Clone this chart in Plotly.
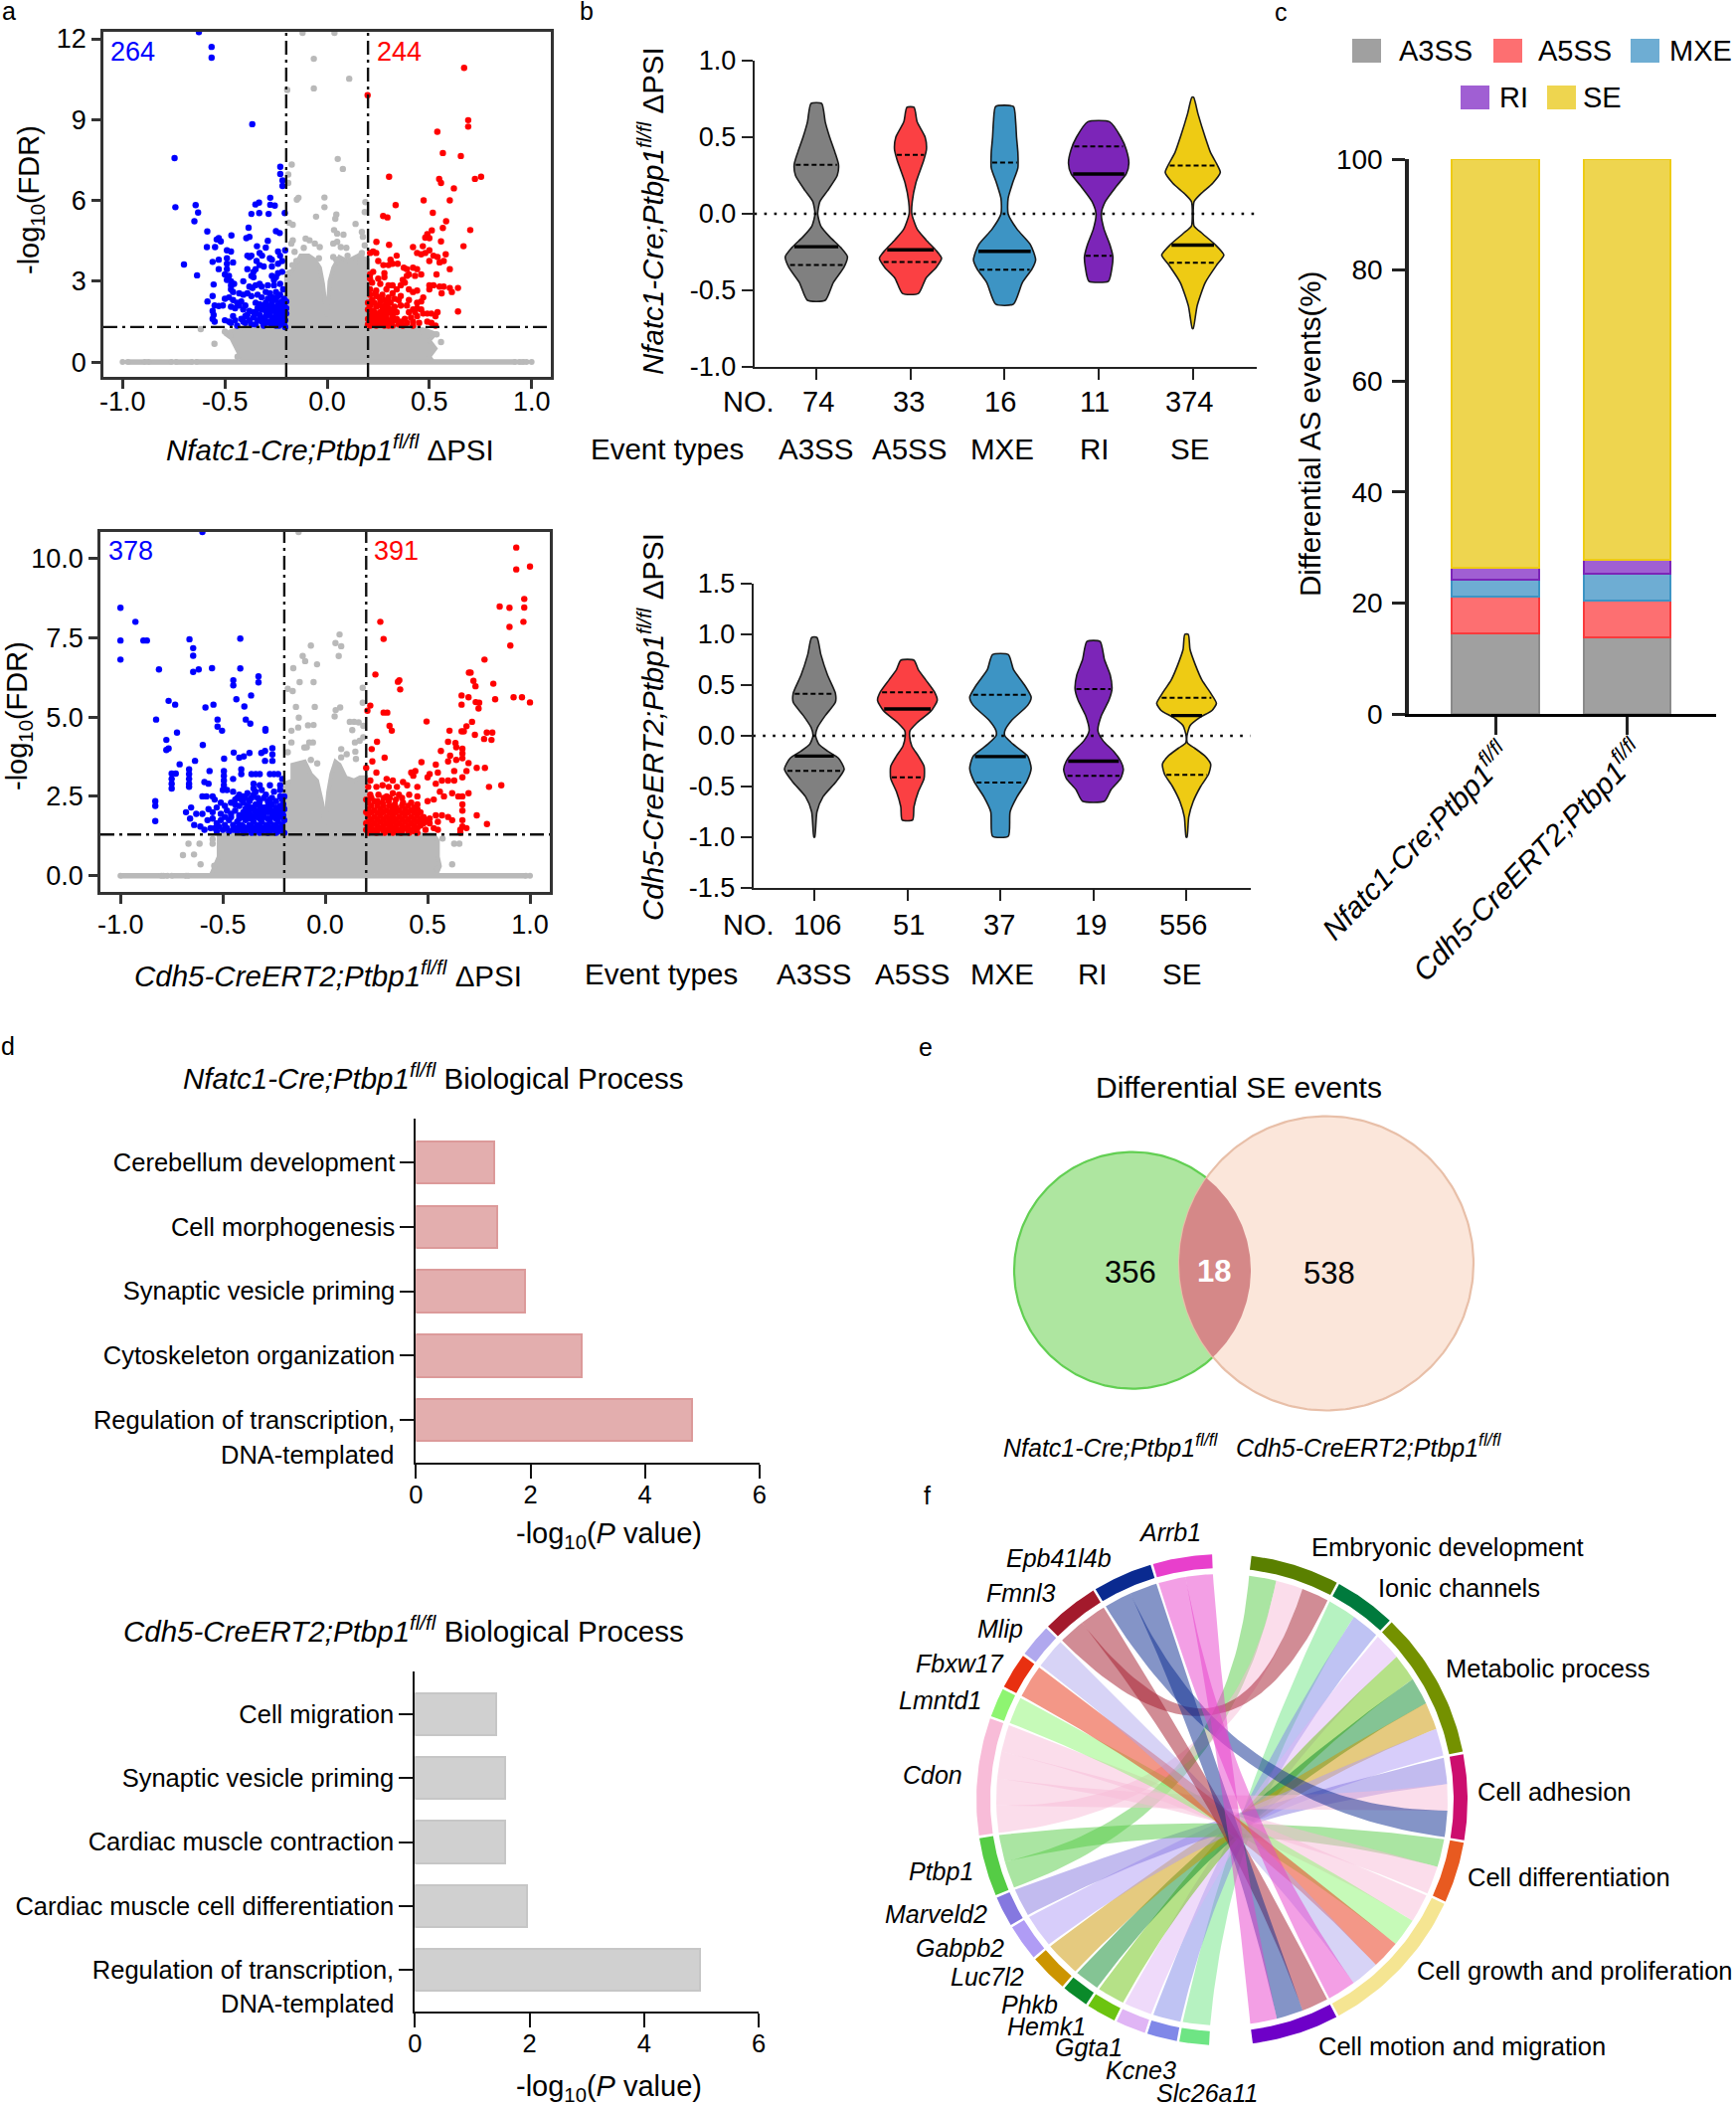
import numpy as np
import plotly.graph_objects as go

W, H = 1746, 2117
FONT = "Liberation Sans"
GENO1 = "<i>Nfatc1-Cre;Ptbp1<sup>fl/fl</sup></i>"
GENO2 = "<i>Cdh5-CreERT2;Ptbp1<sup>fl/fl</sup></i>"

# ---------- panel a : volcano plots ----------
BLUE_A = [(-0.627,12.25),(-0.565,11.7),(-0.565,11.3),(-0.366,8.83),(-0.746,7.57),(-0.742,5.75),(-0.643,5.83),(-0.631,5.55),(-0.649,5.23),(-0.586,4.85),
(-0.229,7.25),(-0.229,6.98),(-0.218,6.74),(-0.218,6.54),(-0.278,6.1),(-0.351,5.85),(-0.333,5.92),(-0.278,5.84),(-0.256,5.81),(-0.37,5.5),(-0.332,5.53),(-0.286,5.5),(-0.207,5.53),(-0.384,4.99),(-0.25,4.86),(-0.232,4.79),
(-0.53,4.6),(-0.54,4.55),(-0.52,4.48),(-0.468,4.7),(-0.395,4.6),(-0.38,4.65),(-0.29,4.5),(-0.588,4.27),(-0.548,4.27),
(-0.49,4.15),(-0.47,4.1),(-0.343,4.3),(-0.3,4.25),(-0.205,4.15),(-0.24,4.1),(-0.23,3.95),(-0.33,4.05),(-0.318,3.95),(-0.39,3.95),(-0.38,3.9),(-0.37,3.95),(-0.49,3.85),(-0.53,3.8),(-0.28,3.85),(-0.27,3.8),(-0.22,3.75),(-0.345,3.75),(-0.33,3.6),(-0.31,3.55),(-0.56,3.72),(-0.27,3.55),(-0.24,3.65),(-0.49,3.65),(-0.46,3.7),
(-0.53,3.45),(-0.49,3.45),(-0.39,3.45),(-0.36,3.35),(-0.35,3.45),(-0.7,3.62),(-0.636,3.22),(-0.5,3.25),(-0.48,3.2),(-0.37,3.2),(-0.36,3.15),(-0.24,3.3),(-0.22,3.35),(-0.27,3.2),(-0.26,3.05),(-0.25,3.15),(-0.47,3.0),(-0.49,3.05),(-0.455,2.9),(-0.47,2.85),(-0.555,2.88),(-0.41,3.0),
(-0.35,2.85),(-0.33,2.9),(-0.38,2.8),(-0.365,2.75),(-0.32,2.8),(-0.29,2.85),(-0.26,2.85),(-0.23,2.9),(-0.215,2.7),(-0.47,2.7),(-0.46,2.6),(-0.43,2.55),(-0.41,2.5),(-0.39,2.55),(-0.37,2.45),(-0.34,2.5),(-0.32,2.4),(-0.3,2.6),(-0.28,2.55),(-0.25,2.6),(-0.23,2.5),(-0.21,2.35),
(-0.56,2.45),(-0.585,2.25),(-0.5,2.35),(-0.48,2.4),(-0.46,2.3),(-0.44,2.2),(-0.42,2.25),(-0.4,2.1),(-0.35,2.2),(-0.33,2.15),(-0.3,2.2),(-0.27,2.25),(-0.25,2.3),(-0.23,2.2),(-0.55,2.1),(-0.53,2.08),(-0.51,2.1),(-0.47,2.05),(-0.45,2.0),(-0.43,2.1),(-0.41,1.95),(-0.38,1.9),(-0.36,1.85),(-0.34,2.0),(-0.32,1.95),(-0.3,1.9),(-0.28,2.0),(-0.26,2.05),(-0.24,2.1),(-0.22,2.0),(-0.205,1.95),
(-0.56,1.9),(-0.555,1.75),(-0.56,1.6),(-0.55,1.5),(-0.5,1.55),(-0.48,1.5),(-0.47,1.45),(-0.44,1.35),(-0.42,1.6),(-0.4,1.7),(-0.4,1.45),(-0.38,1.55),(-0.36,1.65),(-0.35,1.4),(-0.33,1.75),(-0.31,1.6),(-0.31,1.35),(-0.29,1.75),(-0.29,1.5),(-0.28,1.8),(-0.27,1.65),(-0.27,1.4),(-0.26,1.9),(-0.26,1.55),(-0.25,1.75),(-0.25,1.35),(-0.24,1.85),(-0.24,1.6),(-0.23,1.7),(-0.23,1.45),(-0.22,1.85),(-0.22,1.55),(-0.21,1.7),(-0.21,1.4),(-0.205,1.55),(-0.2,1.8),(-0.28,1.45),(-0.3,1.7),(-0.245,1.45),(-0.215,1.6),
(-0.34,1.55),(-0.345,1.8),(-0.37,1.4),(-0.39,1.75),(-0.41,1.5),(-0.45,1.55),(-0.46,1.7),(-0.29,2.1),(-0.27,2.1),(-0.25,2.0),(-0.235,1.95),(-0.21,2.1),(-0.22,2.25),(-0.24,2.45),(-0.265,2.4),(-0.29,2.35),(-0.31,2.1),(-0.27,1.95),(-0.25,1.9),(-0.3,1.45),(-0.32,1.5),(-0.325,1.65),(-0.255,1.65),(-0.235,1.55),(-0.235,1.35),(-0.215,1.45),(-0.205,1.3),(-0.2,2.0),(-0.2,2.25)]
RED_A = [(0.67,10.92),(0.198,9.91),(0.69,8.98),(0.69,8.74),(0.539,8.55),(0.566,7.76),(0.654,7.65),(0.303,6.88),(0.753,6.88),(0.723,6.8),(0.548,6.8),(0.557,6.65),(0.62,6.45),(0.472,6.0),(0.6,6.0),(0.335,5.83),(0.517,5.54),(0.274,5.42),(0.295,5.37),(0.582,5.23),(0.566,4.98),(0.7,4.9),(0.512,4.89),(0.49,4.75),(0.48,4.62),(0.241,4.46),(0.557,4.48),(0.667,4.3),(0.303,4.35),(0.42,4.27),(0.468,4.3),(0.5,4.6),
(0.21,4.05),(0.225,4.1),(0.24,4.05),(0.44,4.05),(0.46,4.0),(0.48,4.05),(0.5,4.15),(0.52,3.95),(0.58,4.0),(0.34,3.95),(0.54,3.9),(0.5,3.75),(0.55,3.7),(0.57,3.75),(0.31,3.8),(0.25,3.75),(0.275,3.6),(0.3,3.6),(0.32,3.65),(0.345,3.65),(0.375,3.5),(0.39,3.45),(0.42,3.5),(0.44,3.45),(0.6,3.45),(0.535,3.25),(0.225,3.35),(0.21,3.25),(0.28,3.3),(0.39,3.2),(0.4,3.25),(0.43,3.2),(0.46,3.25),
(0.21,3.1),(0.25,3.1),(0.28,3.15),(0.37,3.05),(0.38,2.95),(0.22,2.95),(0.26,2.9),(0.3,2.85),(0.32,2.85),(0.36,2.85),(0.5,2.85),(0.52,2.85),(0.55,2.8),(0.5,2.7),(0.57,2.8),(0.6,2.75),(0.64,2.75),(0.61,2.6),(0.56,2.55),(0.34,2.7),(0.4,2.7),(0.42,2.6),(0.21,2.7),(0.24,2.65),(0.29,2.7),(0.32,2.55),(0.44,2.65),(0.36,2.45),(0.47,2.4),(0.21,2.5),(0.24,2.45),(0.27,2.5),(0.3,2.4),(0.33,2.35),(0.35,2.3),(0.4,2.3),(0.22,2.3),(0.26,2.25),(0.29,2.2),(0.31,2.2),(0.44,2.2),(0.46,2.25),
(0.21,2.1),(0.24,2.05),(0.27,2.05),(0.3,2.0),(0.33,2.05),(0.36,2.1),(0.39,2.1),(0.44,2.0),(0.46,1.95),(0.42,1.95),(0.22,1.9),(0.26,1.85),(0.28,1.95),(0.31,1.85),(0.34,1.85),(0.4,1.85),(0.43,1.85),(0.47,1.8),(0.49,1.8),(0.51,1.8),(0.54,1.85),(0.64,1.88),(0.21,1.7),(0.235,1.7),(0.26,1.65),(0.29,1.7),(0.32,1.65),(0.44,1.7),(0.53,1.7),(0.21,1.5),(0.23,1.5),(0.25,1.45),(0.27,1.5),(0.29,1.5),(0.31,1.45),(0.33,1.55),(0.36,1.5),(0.39,1.45),(0.42,1.5),(0.45,1.45),(0.49,1.5),(0.51,1.45),(0.53,1.35),(0.21,1.35),(0.24,1.35),(0.28,1.35),(0.32,1.35),(0.37,1.35),(0.42,1.35),(0.2,1.6),
(0.22,1.6),(0.245,1.55),(0.27,1.6),(0.3,1.55),(0.275,1.75),(0.25,1.8),(0.23,1.85),(0.2,1.95),(0.2,2.2),(0.2,1.4),(0.23,2.2),(0.25,2.1),(0.285,2.1),(0.28,2.3),(0.255,2.4),(0.235,2.55),(0.3,2.25),(0.32,1.95),(0.34,1.6),(0.38,1.6),(0.26,1.4),(0.3,1.35),(0.35,1.4),(0.41,1.65),(0.23,1.4),(0.22,1.75),(0.29,1.85),(0.32,1.75)]
GRAY_A = [(-0.065,11.26),(0.108,10.52),(-0.065,10.16),(-0.195,10.1),(0.052,7.54),(0.077,7.17),(-0.173,7.33),(-0.19,6.96),(-0.19,6.65),(-0.14,6.1),(-0.148,6.03),(-0.013,6.11),(-0.013,5.75),(-0.054,5.4),(0.045,5.48),(0.04,5.32),(0.187,5.94),(0.184,5.57),(0.139,5.13),(-0.168,5.1),(-0.186,5.17),(-0.12,12.22),(0.036,12.22),
(0.034,4.9),(0.049,4.77),(0.08,4.73),(0.17,4.83),(0.175,4.65),(0.184,4.33),(-0.168,4.52),(-0.105,4.58),(-0.086,4.52),(-0.06,4.4),(-0.036,4.27),(-0.114,4.24),(-0.159,4.09),(0.03,4.4),(0.049,4.46),(0.067,4.27),(0.094,4.24),(0.166,3.97),(-0.175,4.4),(-0.618,1.22),(-0.551,0.68),(0.557,0.74),(0.5,0.52),(-0.438,0.2),(-0.5,1.13),(-0.474,0.98),(0.535,1.03),(0.47,1.13),(-0.15,3.75),(-0.17,3.6),(-0.185,3.3),(0.03,3.9),(0.045,3.8),(0.17,4.05),(0.135,3.7),(0.1,3.95),(-0.04,3.85)]
CLOUD_A = [(-0.41,0),(-0.43,0.3),(-0.455,0.65),(-0.47,0.9),(-0.5,1.05),(-0.47,1.15),(-0.39,1.3),(-0.2,1.3),(-0.2,3.3),(-0.17,3.4),(-0.13,3.95),(-0.09,3.95),(-0.06,3.8),(-0.035,3.5),(-0.02,2.9),(-0.01,2.3),(-0.002,1.7),(0.005,2.2),(0.012,3.0),(0.03,3.5),(0.06,3.9),(0.1,3.75),(0.15,3.95),(0.2,3.8),(0.2,1.3),(0.42,1.3),(0.48,1.2),(0.53,1.05),(0.5,0.8),(0.53,0.5),(0.5,0.2),(0.52,0)]
BAND_A = [-1,None,-0.975,-0.89,None,-0.875,-0.76,None,-0.74,-0.66,None,-0.64,0.92,None,0.94,0.96,None,0.975,None,1]

BLUE_B = [(-0.6,10.83),(-1,8.44),(-0.927,8.0),(-1,7.41),(-0.888,7.41),(-0.871,7.41),(-1,6.81),(-0.812,6.5),(-0.663,7.45),(-0.645,7.17),(-0.645,6.93),(-0.645,6.42),(-0.618,6.5),(-0.553,6.54),(-0.415,7.47),(-0.415,6.53),(-0.326,6.28),(-0.326,6.09),(-0.449,6.16),(-0.449,6.0),(-0.362,5.68),(-0.434,5.56),(-0.765,5.51),(-0.733,5.39),(-0.585,5.3),(-0.546,5.39),(-0.395,5.33),(-0.826,4.92),(-0.526,4.92),(-0.388,4.92),(-0.366,4.79),(-0.526,4.7),(-0.504,4.57),(-0.292,4.62),(-0.292,4.57),(-0.724,4.51),(-0.776,4.28),(-0.598,4.12),(-0.765,4.01),(-0.776,3.96),(-0.258,4.02),(-0.312,3.87),(-0.294,3.93),(-0.258,3.82),(-0.447,3.88),(-0.37,3.87),(-0.42,3.72),(-0.398,3.76),(-0.494,3.69),(-0.636,3.62),(-0.294,3.62),(-0.258,3.62),(-0.711,3.51),
(-0.75,3.22),(-0.73,3.22),(-0.75,3.05),(-0.75,2.9),(-0.75,2.75),(-0.665,3.35),(-0.665,3.2),(-0.665,3.05),(-0.665,2.9),(-0.665,2.8),(-0.83,2.35),(-0.83,2.2),(-0.83,1.72),(-0.68,2.0),(-0.655,2.15),(-0.66,1.8),(-0.64,1.6),(-0.63,1.95),(-0.565,3.3),(-0.495,3.3),(-0.495,3.15),(-0.495,3.0),(-0.495,2.85),(-0.41,3.35),(-0.41,3.2),(-0.36,3.2),(-0.34,3.2),(-0.32,3.2),(-0.27,3.2),(-0.25,3.2),(-0.23,3.2),(-0.21,3.05),(-0.45,3.05),(-0.59,2.95),(-0.57,2.9),
(-0.6,2.5),(-0.58,2.5),(-0.55,2.5),(-0.54,2.4),(-0.5,2.7),(-0.48,2.7),(-0.45,2.65),(-0.35,2.9),(-0.35,2.75),(-0.32,2.85),(-0.31,2.7),(-0.27,2.85),(-0.25,2.65),(-0.22,2.7),(-0.35,2.55),(-0.33,2.45),(-0.43,2.45),(-0.41,2.4),(-0.39,2.45),(-0.37,2.35),(-0.29,2.55),(-0.27,2.4),(-0.22,2.5),(-0.21,2.4),
(-0.51,2.3),(-0.49,2.2),(-0.46,2.3),(-0.44,2.25),(-0.42,2.2),(-0.4,2.3),(-0.38,2.2),(-0.36,2.15),(-0.34,2.25),(-0.32,2.2),(-0.3,2.15),(-0.28,2.2),(-0.26,2.25),(-0.24,2.15),(-0.22,2.2),(-0.205,2.25),(-0.57,2.1),(-0.55,2.0),(-0.53,2.15),(-0.51,1.95),(-0.48,2.05),(-0.46,1.95),(-0.44,2.05),(-0.42,1.9),(-0.4,2.0),(-0.38,1.95),(-0.36,1.9),(-0.34,2.0),(-0.32,1.9),(-0.3,1.95),(-0.28,2.0),(-0.26,1.95),(-0.24,1.9),(-0.22,2.0),(-0.205,1.9),
(-0.6,1.95),(-0.575,1.75),(-0.55,1.8),(-0.53,1.65),(-0.51,1.75),(-0.49,1.6),(-0.47,1.75),(-0.45,1.6),(-0.43,1.7),(-0.41,1.6),(-0.39,1.75),(-0.37,1.6),(-0.35,1.7),(-0.33,1.6),(-0.31,1.7),(-0.29,1.6),(-0.27,1.7),(-0.25,1.6),(-0.23,1.7),(-0.21,1.6),(-0.2,1.75),(-0.61,1.55),(-0.59,1.45),(-0.56,1.5),(-0.53,1.4),(-0.5,1.45),(-0.47,1.4),(-0.45,1.45),(-0.43,1.4),(-0.41,1.45),(-0.39,1.4),(-0.37,1.45),(-0.35,1.4),(-0.33,1.45),(-0.31,1.4),(-0.29,1.45),(-0.27,1.4),(-0.25,1.45),(-0.23,1.4),(-0.21,1.45),(-0.2,1.35),(-0.24,1.35),(-0.28,1.35),(-0.32,1.35),(-0.36,1.35),(-0.4,1.35),
(-0.44,2.4),(-0.42,2.55),(-0.4,2.5),(-0.38,2.6),(-0.36,2.45),(-0.34,2.65),(-0.32,2.35),(-0.3,2.45),(-0.28,2.35),(-0.26,2.45),(-0.24,2.35),(-0.22,2.85),(-0.2,2.5),(-0.2,2.1),(-0.39,2.1),(-0.37,2.05),(-0.35,2.1),(-0.33,2.05),(-0.31,2.05),(-0.29,2.05),(-0.27,2.1),(-0.25,2.05),(-0.23,2.05),(-0.21,2.05),(-0.42,1.8),(-0.4,1.85),(-0.38,1.8),(-0.36,1.8),(-0.34,1.85),(-0.32,1.8),(-0.3,1.85),(-0.28,1.8),(-0.26,1.85),(-0.24,1.8),(-0.22,1.85),(-0.44,1.5),(-0.42,1.55),(-0.4,1.55),(-0.38,1.5),(-0.36,1.55),(-0.34,1.52),(-0.32,1.55),(-0.3,1.5),(-0.28,1.55),(-0.26,1.52),(-0.24,1.55),(-0.22,1.52),(-0.49,1.85),(-0.46,1.85),(-0.54,1.5),(-0.52,1.55),(-0.48,1.5)]
RED_B = [(0.933,10.34),(0.933,9.65),(1,9.74),(0.972,8.72),(0.972,8.45),(0.852,8.48),(0.9,8.44),(0.968,8.0),(0.9,7.84),(0.904,7.25),(0.269,8.0),(0.285,7.46),(0.778,6.81),(0.245,6.34),(0.702,6.4),(0.71,6.4),(0.724,6.14),(0.362,6.16),(0.355,6.11),(0.366,5.87),(0.734,5.97),(0.821,6.05),(0.92,5.62),(0.961,5.62),(1,5.46),(0.83,5.56),(0.666,5.68),(0.7,5.62),(0.735,5.47),(0.752,5.45),(0.666,5.39),(0.749,5.27),(0.22,5.36),(0.206,5.2),(0.285,5.14),(0.303,5.14),(0.495,4.86),(0.717,4.85),(0.69,4.71),(0.314,4.72),(0.325,4.57),(0.607,4.57),(0.666,4.55),(0.677,4.55),(0.731,4.44),(0.789,4.51),(0.816,4.51),(0.776,4.31),(0.812,4.28),(0.253,4.22),(0.6,4.22),(0.636,4.18),(0.227,3.99),(0.64,4.05),(0.67,4.0),(0.565,3.93),(0.61,3.78),(0.67,3.85),(0.29,3.72),(0.6,3.6),(0.64,3.65),(0.67,3.7),(0.7,3.55),(0.47,3.58),(0.23,3.6),(0.54,3.5),(0.2,3.4),(0.74,3.4),(0.78,3.4),(0.63,3.3),(0.69,3.3),(0.44,3.3),(0.42,3.25),(0.51,3.2),(0.55,3.25),
(0.25,3.25),(0.22,3.0),(0.3,3.05),(0.33,3.0),(0.38,2.95),(0.43,3.15),(0.5,3.1),(0.57,3.0),(0.6,3.0),(0.63,3.0),(0.67,3.1),(0.7,2.6),(0.8,2.8),(0.86,2.85),(0.21,2.8),(0.25,2.8),(0.28,2.85),(0.31,2.8),(0.35,2.8),(0.4,2.85),(0.45,2.8),(0.54,2.9),(0.56,2.65),(0.62,2.6),(0.65,2.5),(0.67,2.5),(0.58,2.5),(0.22,2.55),(0.26,2.55),(0.3,2.5),(0.33,2.6),(0.36,2.55),(0.41,2.55),(0.45,2.5),(0.53,2.4),(0.5,2.35),(0.67,2.25),(0.21,2.3),(0.24,2.35),(0.28,2.3),(0.31,2.35),(0.34,2.25),(0.38,2.3),(0.42,2.3),(0.45,2.25),
(0.21,2.1),(0.24,2.05),(0.27,2.1),(0.3,2.05),(0.33,2.1),(0.36,2.05),(0.39,2.1),(0.42,2.05),(0.45,2.1),(0.67,2.05),(0.21,1.9),(0.24,1.85),(0.27,1.9),(0.3,1.85),(0.33,1.9),(0.36,1.85),(0.39,1.9),(0.42,1.85),(0.45,1.9),(0.48,1.85),(0.54,1.9),(0.57,1.9),(0.6,1.85),(0.74,1.9),(0.67,1.75),(0.51,1.8),(0.62,1.75),(0.79,1.63),
(0.21,1.7),(0.24,1.65),(0.27,1.7),(0.3,1.65),(0.33,1.7),(0.36,1.65),(0.39,1.7),(0.42,1.65),(0.45,1.7),(0.48,1.65),(0.51,1.65),(0.55,1.7),(0.67,1.55),(0.21,1.5),(0.24,1.45),(0.27,1.5),(0.3,1.45),(0.33,1.5),(0.36,1.45),(0.39,1.5),(0.42,1.45),(0.45,1.5),(0.49,1.45),(0.53,1.5),(0.55,1.45),(0.66,1.45),(0.69,1.5),(0.21,1.35),(0.25,1.35),(0.29,1.35),(0.33,1.35),(0.37,1.35),(0.41,1.35),(0.45,1.35),(0.66,1.35),(0.2,1.65),
(0.225,2.45),(0.255,2.35),(0.285,2.45),(0.315,2.45),(0.345,2.4),(0.375,2.45),(0.225,2.2),(0.255,2.2),(0.285,2.2),(0.315,2.2),(0.345,2.15),(0.375,2.2),(0.405,2.2),(0.435,2.15),(0.225,2.0),(0.255,1.98),(0.285,2.0),(0.315,1.98),(0.345,2.0),(0.375,1.98),(0.405,2.0),(0.435,1.98),(0.465,2.0),(0.225,1.78),(0.255,1.78),(0.285,1.78),(0.315,1.78),(0.345,1.78),(0.375,1.78),(0.405,1.78),(0.435,1.78),(0.465,1.78),(0.495,1.75),(0.225,1.58),(0.255,1.58),(0.285,1.58),(0.315,1.58),(0.345,1.58),(0.375,1.58),(0.405,1.58),(0.435,1.58),(0.465,1.58),(0.225,1.42),(0.255,1.4),(0.285,1.42),(0.315,1.4),(0.345,1.42),(0.375,1.4),(0.405,1.42),(0.435,1.4),(0.2,2.0),(0.2,2.4),(0.2,1.45)]
GRAY_B = [(0.07,7.6),(0.05,7.33),(0.078,7.23),(0.066,6.92),(-0.07,7.25),(-0.11,6.92),(-0.098,6.76),(-0.04,6.66),(-0.156,6.54),(-0.125,6.1),(-0.057,6.1),(-0.183,5.89),(-0.159,5.82),(0.183,5.92),(0.183,5.45),(-0.143,5.32),(-0.051,5.32),(0.073,5.3),(0.051,5.22),(0.046,5.02),(-0.129,4.98),(-0.084,4.74),(-0.057,4.75),(-0.132,4.67),(-0.165,4.57),(0.12,4.85),(0.141,4.85),(0.163,4.83),(0.132,4.59),(0.186,4.72),(-0.165,4.2),(-0.102,4.04),(-0.078,4.2),(-0.06,4.2),(-0.183,3.89),(0.078,3.99),(0.145,4.2),(0.168,4.25),(0.186,4.36),(0.105,3.83),(0.147,3.91),(0.078,3.73),(0.15,3.68),(-0.07,3.65),(-0.039,3.54),(-0.09,4.05),(-0.695,0.65),(-0.641,0.67),(-0.609,0.36),(-0.542,0.31),(0.62,0.36),(0.63,1.01),(0.655,1.01),(0.573,1.17),(-0.668,1.01),(-0.614,1.01),(-0.55,1.01),(0.546,0.23),(-0.55,1.15),(-0.13,10.83)]
CLOUD_B = [(-0.56,0),(-0.54,0.3),(-0.52,0.6),(-0.52,1.3),(-0.2,1.3),(-0.2,2.9),(-0.16,3.0),(-0.16,3.5),(-0.1,3.6),(-0.07,3.2),(-0.04,3.0),(-0.015,2.3),(-0.002,1.55),(0.006,2.1),(0.015,2.65),(0.03,3.2),(0.05,3.6),(0.07,3.5),(0.1,3.1),(0.14,3.0),(0.17,3.1),(0.2,3.1),(0.2,1.3),(0.53,1.3),(0.55,1.1),(0.55,0.6),(0.56,0.3),(0.54,0)]
BAND_B = [-1,-0.8,None,-0.79,-0.77,None,-0.75,-0.68,None,-0.67,0.98,None,1]

# ---------- panel b : violins. [psi level], [half width, in density units] ----------
EVENTS = ["A3SS", "A5SS", "MXE", "RI", "SE"]
N1 = [74, 33, 16, 11, 374]
N2 = [106, 51, 37, 19, 556]
V_COLORS = ["#808080", "#fb4043", "#3d94c4", "#7c25b8", "#eecb14"]
V1_Y = [[0.72,0.6,0.5,0.4,0.32,0.25,0.15,0.08,0,-0.08,-0.15,-0.22,-0.28,-0.35,-0.45,-0.565],
        [0.695,0.6,0.5,0.42,0.35,0.2,0.08,0,-0.1,-0.17,-0.24,-0.29,-0.35,-0.42,-0.52],
        [0.70,0.6,0.5,0.4,0.3,0.2,0.1,0,-0.1,-0.2,-0.3,-0.36,-0.45,-0.59],
        [0.60,0.5,0.42,0.33,0.26,0.18,0.08,0,-0.1,-0.2,-0.28,-0.35,-0.44],
        [0.76,0.65,0.5,0.4,0.32,0.27,0.2,0.13,0.08,0,-0.08,-0.13,-0.2,-0.27,-0.33,-0.45,-0.6,-0.75]]
V1_W = [[12,20,30,42,50,47,25,8,3,10,30,55,70,62,38,20],
        [8,15,33,36,30,12,4,3,15,35,58,70,58,35,18],
        [20,25,27,30,30,18,8,8,28,58,70,62,40,20],
        [25,50,62,68,62,40,15,6,12,25,32,30,22],
        [2,12,28,40,55,62,45,18,3,1,3,22,50,70,55,28,10,1]]
V1_Q = [[0.32,-0.215,-0.335],[0.385,-0.235,-0.315],[0.335,-0.245,-0.365],[0.44,0.26,-0.275],[0.315,-0.205,-0.32]]
V2_Y = [[0.97,0.8,0.6,0.42,0.33,0.2,0.08,0,-0.08,-0.15,-0.22,-0.33,-0.45,-0.6,-0.75,-1.0],
        [0.745,0.65,0.55,0.43,0.35,0.25,0.12,0.05,0,-0.1,-0.2,-0.3,-0.42,-0.55,-0.7,-0.83],
        [0.8,0.65,0.5,0.38,0.3,0.15,0.05,0,-0.08,-0.2,-0.32,-0.45,-0.6,-0.75,-0.99],
        [0.93,0.75,0.6,0.46,0.35,0.2,0.05,-0.05,-0.15,-0.25,-0.33,-0.42,-0.53,-0.645],
        [1.0,0.85,0.7,0.55,0.42,0.32,0.25,0.18,0.1,0,-0.07,-0.12,-0.2,-0.28,-0.38,-0.5,-0.65,-0.8,-1.0]]
V2_W = [[6,15,30,48,48,25,7,3,10,30,55,68,50,20,6,1],
        [15,25,42,62,68,55,20,6,5,10,25,38,38,25,15,12],
        [18,30,55,70,62,25,10,10,28,62,70,60,38,22,18],
        [15,25,38,42,35,18,10,22,45,62,68,62,40,25],
        [4,8,20,35,55,68,58,30,8,1,2,18,42,55,50,32,15,5,1]]
V2_Q = [[0.415,-0.2,-0.345],[0.43,0.265,-0.41],[0.405,-0.205,-0.46],[0.46,-0.25,-0.395],[0.375,0.2,-0.385]]
DENSITY_PER_CATEGORY = 212.0

# ---------- panel c ----------
C_GROUPS = [0, 1]
C_VALUES = {"A3SS": [14.6, 13.8], "A5SS": [6.5, 6.6], "MXE": [3.1, 4.8], "RI": [2.2, 2.5], "SE": [73.6, 72.3]}
C_FILL = {"A3SS": "#a0a0a0", "A5SS": "#fd6f71", "MXE": "#6eadd3", "RI": "#a05fd3", "SE": "#eed54f"}
C_EDGE = {"A3SS": "#8a8a8a", "A5SS": "#f93a3c", "MXE": "#3d94c4", "RI": "#7c25b8", "SE": "#eecb14"}

# ---------- panel d ----------
D1_TERMS = ["Cerebellum development", "Cell morphogenesis", "Synaptic vesicle priming", "Cytoskeleton organization", "Regulation of transcription,"]
D1_VALS = [1.37, 1.42, 1.91, 2.90, 4.83]
D2_TERMS = ["Cell migration", "Synaptic vesicle priming", "Cardiac muscle contraction", "Cardiac muscle cell differentiation", "Regulation of transcription,"]
D2_VALS = [1.42, 1.58, 1.58, 1.96, 4.98]

# ---------- panel e ----------
VENN_COUNTS = [356, 18, 538]

# ---------- panel f : chord. sector sizes and gene -> process links ----------
PROC = ["Embryonic development", "Ionic channels", "Metabolic process", "Cell adhesion", "Cell differentiation", "Cell growth and proliferation", "Cell motion and migration"]
PROC_SIZE = [21.0, 14.6, 35.0, 20.2, 14.4, 36.5, 20.6]
PROC_COLOR = ["#5a8000", "#007a3d", "#749100", "#cc0e6e", "#e85a20", "#f5e592", "#6e00c8"]
GENES = ["Slc26a11", "Kcne3", "Ggta1", "Hemk1", "Phkb", "Luc7l2", "Gabpb2", "Marveld2", "Ptbp1", "Cdon", "Lmntd1", "Fbxw17", "Mlip", "Fmnl3", "Epb41l4b", "Arrb1"]
GENE_SIZE = [7.0, 7.1, 7.1, 7.0, 6.3, 9.0, 8.6, 7.2, 13.9, 27.7, 6.9, 8.5, 7.8, 13.5, 14.1, 14.0]
GENE_COLOR = ["#6ee584", "#8088e8", "#e0b5f5", "#6cc410", "#0a8a2a", "#cc9500", "#b09cf5", "#8578e0", "#55cc45", "#f8bcd8", "#8ef571", "#e83010", "#b0a8ee", "#a31a2c", "#0a2a90", "#e83fcc"]
# for each process, its genes in clockwise order round the process sector
PROC_LINKS = [["Ptbp1", "Cdon", "Fmnl3"], ["Slc26a11", "Kcne3"], ["Ggta1", "Hemk1", "Phkb", "Luc7l2", "Gabpb2"], ["Marveld2", "Cdon", "Epb41l4b"], ["Ptbp1", "Cdon"], ["Cdon", "Lmntd1", "Fbxw17", "Mlip", "Arrb1"], ["Fmnl3", "Epb41l4b", "Arrb1"]]

# ---------- helpers ----------
traces = []
layout_axes = {}
annotations = []


def axes(n, left, right, top, bottom, xcfg, ycfg):
    layout_axes[f"xaxis{n}"] = dict(domain=[left / W, right / W], anchor=f"y{n}", showgrid=False, zeroline=False, automargin=False, **xcfg)
    layout_axes[f"yaxis{n}"] = dict(domain=[1 - bottom / H, 1 - top / H], anchor=f"x{n}", showgrid=False, zeroline=False, automargin=False, **ycfg)


def add(n, tr):
    tr.update(xaxis=f"x{n}", yaxis=f"y{n}", showlegend=False, hoverinfo="skip")
    traces.append(tr)


def text(x, y, s, size=27, color="black", anchor="center", angle=0):
    annotations.append(dict(x=x, y=y, xref="x8", yref="y8", text=s, showarrow=False, xanchor=anchor, yanchor="middle",
                            textangle=angle, font=dict(family=FONT, size=size, color=color)))


def volcano(n, pix, xrange, yrange, yticks, yfmt, cloud, band, gray, blue, red, standoff):
    left, right, top, bottom = pix
    frame = dict(showline=True, linecolor="#333333", linewidth=2.5, mirror=True, ticks="outside", ticklen=9, tickwidth=2.5, tickcolor="#333333",
                 tickfont=dict(family=FONT, size=27, color="black"))
    axes(n, left, right, top, bottom,
         dict(range=xrange, tickvals=[-1, -0.5, 0, 0.5, 1], ticktext=["-1.0", "-0.5", "0.0", "0.5", "1.0"], ticklabelstandoff=standoff, **frame),
         dict(range=yrange, tickvals=yticks, ticktext=[yfmt.format(v) for v in yticks], **frame))
    add(n, go.Scatter(x=[p[0] for p in cloud], y=[p[1] for p in cloud], mode="lines", fill="toself", fillcolor="#b9b9b9", line=dict(color="#b9b9b9", width=4)))
    add(n, go.Scatter(x=band, y=[None if v is None else 0 for v in band], mode="lines+markers", line=dict(color="#b9b9b9", width=5.5), marker=dict(color="#b9b9b9", size=6)))
    for pts, col in ((gray, "#b9b9b9"), (blue, "#0000ff"), (red, "#ff0000")):
        add(n, go.Scatter(x=[p[0] for p in pts], y=[p[1] for p in pts], mode="markers", marker=dict(color=col, size=6.4, line=dict(width=0))))
    dash = dict(color="#111111", width=2.4, dash="14px,5px,3px,5px")
    for v in (-0.2, 0.2):
        add(n, go.Scatter(x=[v, v], y=yrange, mode="lines", line=dash))
    add(n, go.Scatter(x=xrange, y=[1.3, 1.3], mode="lines", line=dash))


def violins(n, pix, xrange, yrange, yticks, Y, WD, Q):
    left, right, top, bottom = pix
    axes(n, left, right, top, bottom,
         dict(range=xrange, tickvals=list(range(5)), showticklabels=False, showline=True, linecolor="#222222", linewidth=2, ticks="outside", ticklen=11, tickwidth=2, tickcolor="#222222"),
         dict(range=yrange, tickvals=yticks, ticktext=[f"{v:.1f}" for v in yticks], showline=True, linecolor="#222222", linewidth=2, ticks="outside", ticklen=11, tickwidth=2, tickcolor="#222222",
              tickfont=dict(family=FONT, size=27, color="black")))
    for i in range(5):
        y = np.array(Y[i], float)
        w = np.array(WD[i], float) / DENSITY_PER_CATEGORY
        xs = np.concatenate([i - w, (i + w)[::-1], [i - w[0]]])
        ys = np.concatenate([y, y[::-1], [y[0]]])
        add(n, go.Scatter(x=xs, y=ys, mode="lines", fill="toself", fillcolor=V_COLORS[i], line=dict(color="#1a1a1a", width=1.6, shape="spline", smoothing=0.6)))
        for j, q in enumerate(Q[i]):
            h = np.interp(-q, -y, w) * 0.93
            solid = j == 1
            add(n, go.Scatter(x=[i - h, i + h], y=[q, q], mode="lines",
                              line=dict(color="black", width=3.4 if solid else 2, dash="solid" if solid else "5px,3px")))
    add(n, go.Scatter(x=[-0.66, xrange[1]], y=[0, 0], mode="lines", line=dict(color="black", width=2.6, dash="2.6px,7.4px")))


# ---------- a ----------
volcano(1, (104, 554, 32, 379), [-1.094, 1.094], [-0.55, 12.26], [0, 3, 6, 9, 12], "{:d}", CLOUD_A, BAND_A, GRAY_A, BLUE_A, RED_A, -10)
volcano(2, (101, 553, 535, 897), [-1.098, 1.097], [-0.51, 10.83], [0, 2.5, 5, 7.5, 10], "{:.1f}", CLOUD_B, BAND_B, GRAY_B, BLUE_B, RED_B, -2)
text(109, 52, "264", color="#0000ff", anchor="left")
text(377, 52, "244", color="#ff0000", anchor="left")
text(107, 554, "378", color="#0000ff", anchor="left")
text(374, 554, "391", color="#ff0000", anchor="left")
text(31, 201, "-log<sub>10</sub>(FDR)", size=29, angle=-90)
text(19, 720, "-log<sub>10</sub>(FDR)", size=29, angle=-90)
text(332, 450, GENO1 + " ΔPSI", size=29.5)
text(330, 979, GENO2 + " ΔPSI", size=29.5)

# ---------- b ----------
violins(3, (758.6, 1264, 61, 369), [-0.66, 4.68], [-1, 1], [-1, -0.5, 0, 0.5, 1], V1_Y, V1_W, V1_Q)
violins(4, (757.7, 1257.7, 587, 893), [-0.655, 4.687], [-1.5, 1.5], [-1.5, -1, -0.5, 0, 0.5, 1, 1.5], V2_Y, V2_W, V2_Q)
text(654, 212, GENO1 + " ΔPSI", size=29.5, angle=-90)
text(654, 731, GENO2 + " ΔPSI", size=29.5, angle=-90)
text(753, 404, "NO.", size=29)
for xp, v in zip([823, 914, 1006, 1101, 1196], N1):
    text(xp, 404, str(v), size=29)
text(592, 451, "Event types", size=29.5, anchor="left")
for xp, v in zip([820, 914, 1008, 1101, 1196], EVENTS):
    text(xp, 451, v, size=29.5)
text(753, 930, "NO.", size=29)
for xp, v in zip([822, 914, 1005, 1097, 1190], N2):
    text(xp, 930, str(v), size=29)
text(586, 979, "Event types", size=29.5, anchor="left")
for xp, v in zip([818, 917, 1008, 1099, 1188], EVENTS):
    text(xp, 979, v, size=29.5)

# ---------- c ----------
axes(5, 1417, 1726, 160, 718,
     dict(range=[-0.659, 1.68], tickvals=C_GROUPS, showticklabels=False, showline=True, linecolor="black", linewidth=2.5, ticks="outside", ticklen=18, tickwidth=3, tickcolor="#222222"),
     dict(range=[0, 100], tickvals=[0, 20, 40, 60, 80, 100], showline=True, linecolor="#222222", linewidth=3.5, ticks="outside", ticklen=13, tickwidth=2.5, tickcolor="#222222", ticklabelstandoff=4,
          tickfont=dict(family=FONT, size=28, color="black")))
for ev in EVENTS:
    add(5, go.Bar(x=C_GROUPS, y=C_VALUES[ev], width=0.66, marker=dict(color=C_FILL[ev], line=dict(color=C_EDGE[ev], width=2))))
text(1317, 437, "Differential AS events(%)", size=29.5, angle=-90)
text(1424, 845, GENO1, size=30, angle=-46)
text(1536, 865, GENO2, size=30, angle=-46)
LEG_POS = {"A3SS": (1360, 51, 1405), "A5SS": (1502, 51, 1545), "MXE": (1640, 51, 1677), "RI": (1469, 98, 1506), "SE": (1556, 98, 1590)}
for ev in EVENTS:
    lx, ly, tx = LEG_POS[ev]
    traces.append(go.Scatter(x=[lx, lx + 29, lx + 29, lx, lx], y=[ly - 12, ly - 12, ly + 12, ly + 12, ly - 12], mode="lines", fill="toself",
                             fillcolor=C_FILL[ev], line=dict(width=0), xaxis="x8", yaxis="y8", showlegend=False, hoverinfo="skip"))
    text(tx, ly, ev, size=29, anchor="left")

# ---------- d ----------
def hbars(n, pix, yrange, terms, vals, fill, edge, tail_y, title_x, title_y, title, xt_y):
    left, right, top, bottom = pix
    axes(n, left, right, top, bottom,
         dict(range=[0, 6], tickvals=[0, 2, 4, 6], showline=True, linecolor="#111111", linewidth=2, ticks="outside", ticklen=14, tickwidth=2, tickcolor="#111111", ticklabelstandoff=-6,
              tickfont=dict(family=FONT, size=25.5, color="black")),
         dict(range=yrange, tickvals=list(range(5)), ticktext=terms, showline=True, linecolor="#111111", linewidth=2, ticks="outside", ticklen=14, tickwidth=2, tickcolor="#111111",
              tickfont=dict(family=FONT, size=25.5, color="black")))
    add(n, go.Bar(x=vals, y=list(range(5)), orientation="h", width=0.656, marker=dict(color=fill, line=dict(color=edge, width=2))))
    text(398, tail_y, "DNA-templated", size=25.5, anchor="right")
    text(title_x, title_y, title, size=29.5)
    text(612, xt_y, "-log<sub>10</sub>(<i>P</i> value)", size=29)


hbars(6, (418.4, 763.8, 1125, 1471.4), [4.67, -0.68], D1_TERMS, D1_VALS, "#e3aeae", "#dc9a9a", 1463, 436, 1082, GENO1 + " Biological Process", 1544)
hbars(7, (417.3, 763, 1681, 2023), [4.654, -0.67], D2_TERMS, D2_VALS, "#d0d0d0", "#c6c6c6", 2015, 406, 1638, GENO2 + " Biological Process", 2100)

# ---------- overlay pixel axes (venn, chord, all free text) ----------
axes(8, 0, W, 0, H, dict(range=[0, W], visible=False), dict(range=[H, 0], visible=False))


def poly(xs, ys, fill, line=None, lw=0):
    traces.append(go.Scatter(x=xs, y=ys, mode="lines", fill="toself", fillcolor=fill, line=dict(color=line or fill, width=lw), xaxis="x8", yaxis="y8", showlegend=False, hoverinfo="skip"))


# ---------- e ----------
c1 = (1139.0, 1277.6, 119.0)
c2 = (1334.0, 1270.5, 148.0)
t = np.linspace(0, 2 * np.pi, 241)
poly(c1[0] + c1[2] * np.cos(t), c1[1] + c1[2] * np.sin(t), "#aee6a0", "#62cf52", 2.2)
poly(c2[0] + c2[2] * np.cos(t), c2[1] + c2[2] * np.sin(t), "#fbe6da", "#e8bfa8", 2.2)
d = np.hypot(c2[0] - c1[0], c2[1] - c1[1])
base = np.arctan2(c2[1] - c1[1], c2[0] - c1[0])
a1 = np.arccos((d**2 + c1[2]**2 - c2[2]**2) / (2 * d * c1[2]))
a2 = np.arccos((d**2 + c2[2]**2 - c1[2]**2) / (2 * d * c2[2]))
t1 = np.linspace(base - a1, base + a1, 80)
t2 = np.linspace(base + np.pi - a2, base + np.pi + a2, 80)
poly(np.r_[c1[0] + c1[2] * np.cos(t1), c2[0] + c2[2] * np.cos(t2)], np.r_[c1[1] + c1[2] * np.sin(t1), c2[1] + c2[2] * np.sin(t2)], "#d58888")
text(1246, 1093, "Differential SE events", size=30)
text(1137, 1279, str(VENN_COUNTS[0]), size=31)
text(1221, 1278, f"<b>{VENN_COUNTS[1]}</b>", size=31, color="white")
text(1337, 1280, str(VENN_COUNTS[2]), size=31)
text(1117, 1454, GENO1, size=25)
text(1377, 1454, GENO2, size=25)

# ---------- f ----------
CX, CY, R_OUT, R_IN, R_RIB = 1229.0, 1810.0, 247.0, 233.0, 227.0
CTRL = (1237.0, 1820.0)
GAP = 0.6


def pt(deg, r):
    a = np.radians(deg)
    return CX + r * np.sin(a), CY - r * np.cos(a)


def ring(a0, a1, color):
    th = np.linspace(a0, a1, 30)
    xo, yo = pt(th, R_OUT)
    xi, yi = pt(th[::-1], R_IN)
    poly(np.r_[xo, xi], np.r_[yo, yi], color)


def hex_rgba(h, a):
    return f"rgba({int(h[1:3],16)},{int(h[3:5],16)},{int(h[5:7],16)},{a})"


proc_span = {}
cur = 6.9
for name, size, col in zip(PROC, PROC_SIZE, PROC_COLOR):
    ring(cur, cur + size, col)
    proc_span[name] = (cur, cur + size)
    cur += size + GAP
gene_span = {}
cur = 183.0
for name, size, col in zip(GENES, GENE_SIZE, GENE_COLOR):
    ring(cur, cur + size, col)
    gene_span[name] = (cur, cur + size)
    cur += size + GAP


def bez(p0, p2, n=50):
    s = np.linspace(0, 1, n)[:, None]
    p0, p2, c = np.array(p0), np.array(p2), np.array(CTRL)
    return (1 - s)**2 * p0 + 2 * s * (1 - s) * c + s**2 * p2


GCOL = dict(zip(GENES, GENE_COLOR))
for pname, links in zip(PROC, PROC_LINKS):
    p0, p1 = proc_span[pname]
    pw = (p1 - p0) / len(links)
    for k, g in enumerate(links):
        ga, gb = gene_span[g]
        order = [p for p, ls in zip(PROC, PROC_LINKS) if g in ls]
        gw = (gb - ga) / len(order)
        j = order.index(pname)
        g0, g1 = ga + j * gw, ga + (j + 1) * gw
        q0, q1 = p0 + k * pw, p0 + (k + 1) * pw
        th_g = np.linspace(g0, g1, 12)
        th_p = np.linspace(q0, q1, 12)
        gx, gy = pt(th_g, R_RIB)
        px_, py_ = pt(th_p, R_RIB)
        e1 = bez((px_[-1], py_[-1]), (gx[0], gy[0]))
        e2 = bez((gx[-1], gy[-1]), (px_[0], py_[0]))
        poly(np.r_[px_, e1[:, 0], gx, e2[:, 0]], np.r_[py_, e1[:, 1], gy, e2[:, 1]], hex_rgba(GCOL[g], 0.5))

GENE_LABEL_POS = [(1214, 2105), (1147, 2082), (1095, 2059), (1052, 2038), (1035, 2016), (993, 1988), (965, 1959), (941, 1925), (946, 1882), (938, 1785), (945, 1710), (965, 1673), (1006, 1638), (1027, 1602), (1065, 1567), (1176, 1541)]
for name, (lx, ly) in zip(GENES, GENE_LABEL_POS):
    text(lx, ly, f"<i>{name}</i>", size=25)
PROC_LABEL_POS = [(1317, 1556), (1384, 1597), (1452, 1678), (1484, 1802), (1474, 1888), (1423, 1982), (1324, 2058)]
for name, (lx, ly) in zip(PROC, PROC_LABEL_POS):
    text(lx, ly, name, size=25.5, anchor="left")

# ---------- panel letters ----------
for s, lx, ly in (("a", 9, 11), ("b", 590, 11), ("c", 1288, 12), ("d", 8, 1052), ("e", 931, 1053), ("f", 932, 1504)):
    text(lx, ly, s, size=25)

fig = go.Figure(data=traces)
fig.update_layout(width=W, height=H, margin=dict(l=0, r=0, t=0, b=0, autoexpand=False), paper_bgcolor="white", plot_bgcolor="rgba(0,0,0,0)",
                  showlegend=False, barmode="stack", annotations=annotations, font=dict(family=FONT), **layout_axes)
fig.write_html("out.html", config={"displayModeBar": False}, post_script="document.body.style.margin='0';")
